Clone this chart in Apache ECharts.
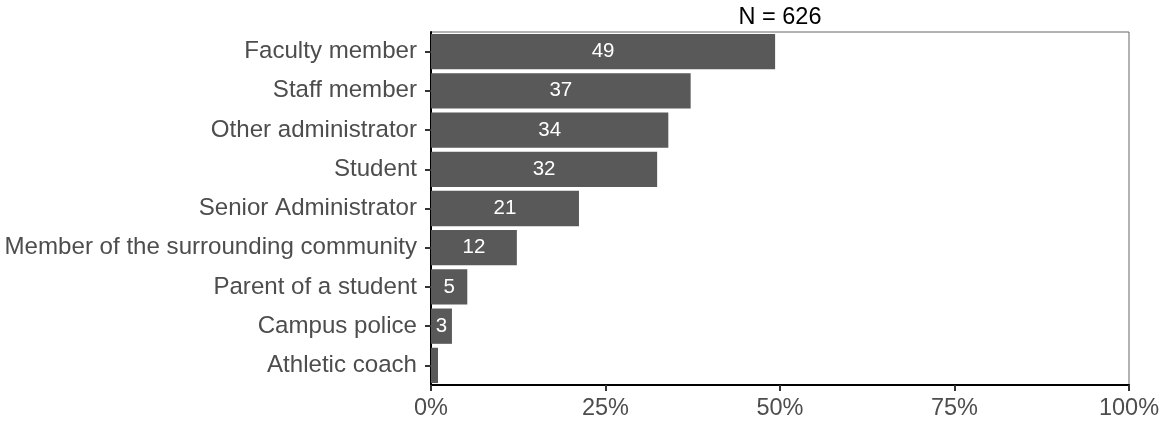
<!DOCTYPE html>
<html>
<head>
<meta charset="utf-8">
<script src="https://cdn.jsdelivr.net/npm/echarts@6/dist/echarts.min.js"></script>
<style>html,body{margin:0;padding:0;background:#fff}#c{width:1169px;height:424px}</style>
</head>
<body>
<div id="c"></div>
<script>
const categories = ["Faculty member","Staff member","Other administrator","Student","Senior Administrator","Member of the surrounding community","Parent of a student","Campus police","Athletic coach"];
const values = [49.3, 37.2, 34.0, 32.4, 21.2, 12.3, 5.2, 3.0, 1.0];
const barLabels = ["49","37","34","32","21","12","5","3",""];
const xTicks = [0, 25, 50, 75, 100];
const titleText = "N = 626";

const FONT = "'Liberation Sans', Arial, sans-serif";
const chart = echarts.init(document.getElementById('c'), null, {renderer: 'canvas'});
chart.setOption({
  animation: false,
  graphic: [{
    type: 'text', left: null, x: 780, y: 6,
    style: {text: titleText, x: 0, y: 0, align: 'center', verticalAlign: 'top',
            font: "23.5px 'Liberation Sans', Arial, sans-serif", fill: '#000'}
  }],
  grid: {left: 431, right: 40, top: 32, bottom: 39, containLabel: false,
         show: true, borderColor: '#666', borderWidth: 1, backgroundColor: 'transparent'},
  xAxis: {
    type: 'value', min: xTicks[0], max: xTicks[xTicks.length-1], interval: 25,
    axisLine: {show: true, lineStyle: {color: '#000', width: 2}},
    axisTick: {show: true, length: 6, lineStyle: {color: '#333', width: 2}},
    splitLine: {show: false},
    axisLabel: {fontFamily: FONT, fontSize: 23.5, color: '#4d4d4d', margin: 12,
                formatter: v => v + '%'}
  },
  yAxis: {
    type: 'category', data: categories, inverse: true,
    axisLine: {show: true, lineStyle: {color: '#000', width: 2}},
    axisTick: {show: true, alignWithLabel: true, length: 6, lineStyle: {color: '#333', width: 2}},
    axisLabel: {fontFamily: FONT, fontSize: 24.1, color: '#4d4d4d', margin: 14}
  },
  series: [{
    type: 'bar', data: values, barWidth: '90%',
    itemStyle: {color: '#595959'},
    label: {show: true, position: 'inside', color: '#fff', fontFamily: FONT, fontSize: 20.5,
            formatter: p => barLabels[p.dataIndex]}
  }]
});
</script>
</body>
</html>
